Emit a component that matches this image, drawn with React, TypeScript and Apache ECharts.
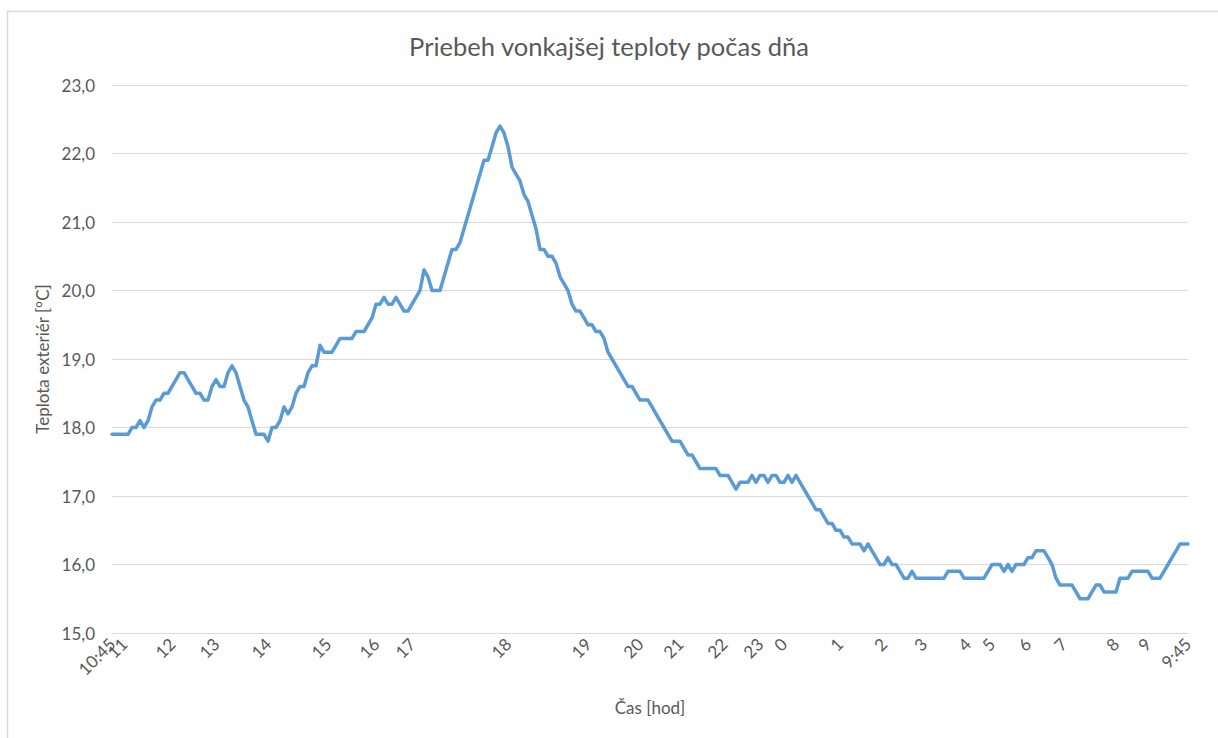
import React, { useEffect, useRef } from "react";
import * as echarts from "echarts";

const TITLE = "Priebeh vonkajšej teploty počas dňa";
const Y_NAME = "Teplota exteriér [°C]";
const X_NAME = "Čas [hod]";

// Outdoor temperature samples (°C), in measurement order
const TEMPS = [
  17.9, 17.9, 17.9, 17.9, 17.9, 18.0, 18.0, 18.1, 18.0, 18.1,
  18.3, 18.4, 18.4, 18.5, 18.5, 18.6, 18.7, 18.8, 18.8, 18.7,
  18.6, 18.5, 18.5, 18.4, 18.4, 18.6, 18.7, 18.6, 18.6, 18.8,
  18.9, 18.8, 18.6, 18.4, 18.3, 18.1, 17.9, 17.9, 17.9, 17.8,
  18.0, 18.0, 18.1, 18.3, 18.2, 18.3, 18.5, 18.6, 18.6, 18.8,
  18.9, 18.9, 19.2, 19.1, 19.1, 19.1, 19.2, 19.3, 19.3, 19.3,
  19.3, 19.4, 19.4, 19.4, 19.5, 19.6, 19.8, 19.8, 19.9, 19.8,
  19.8, 19.9, 19.8, 19.7, 19.7, 19.8, 19.9, 20.0, 20.3, 20.2,
  20.0, 20.0, 20.0, 20.2, 20.4, 20.6, 20.6, 20.7, 20.9, 21.1,
  21.3, 21.5, 21.7, 21.9, 21.9, 22.1, 22.3, 22.4, 22.3, 22.1,
  21.8, 21.7, 21.6, 21.4, 21.3, 21.1, 20.9, 20.6, 20.6, 20.5,
  20.5, 20.4, 20.2, 20.1, 20.0, 19.8, 19.7, 19.7, 19.6, 19.5,
  19.5, 19.4, 19.4, 19.3, 19.1, 19.0, 18.9, 18.8, 18.7, 18.6,
  18.6, 18.5, 18.4, 18.4, 18.4, 18.3, 18.2, 18.1, 18.0, 17.9,
  17.8, 17.8, 17.8, 17.7, 17.6, 17.6, 17.5, 17.4, 17.4, 17.4,
  17.4, 17.4, 17.3, 17.3, 17.3, 17.2, 17.1, 17.2, 17.2, 17.2,
  17.3, 17.2, 17.3, 17.3, 17.2, 17.3, 17.3, 17.2, 17.2, 17.3,
  17.2, 17.3, 17.2, 17.1, 17.0, 16.9, 16.8, 16.8, 16.7, 16.6,
  16.6, 16.5, 16.5, 16.4, 16.4, 16.3, 16.3, 16.3, 16.2, 16.3,
  16.2, 16.1, 16.0, 16.0, 16.1, 16.0, 16.0, 15.9, 15.8, 15.8,
  15.9, 15.8, 15.8, 15.8, 15.8, 15.8, 15.8, 15.8, 15.8, 15.9,
  15.9, 15.9, 15.9, 15.8, 15.8, 15.8, 15.8, 15.8, 15.8, 15.9,
  16.0, 16.0, 16.0, 15.9, 16.0, 15.9, 16.0, 16.0, 16.0, 16.1,
  16.1, 16.2, 16.2, 16.2, 16.1, 16.0, 15.8, 15.7, 15.7, 15.7,
  15.7, 15.6, 15.5, 15.5, 15.5, 15.6, 15.7, 15.7, 15.6, 15.6,
  15.6, 15.6, 15.8, 15.8, 15.8, 15.9, 15.9, 15.9, 15.9, 15.9,
  15.8, 15.8, 15.8, 15.9, 16.0, 16.1, 16.2, 16.3, 16.3, 16.3,
];

// Hour labels shown on the time axis and the sample index they belong to
const HOUR_LABELS = [
  "10:45", "11", "12", "13", "14", "15", "16", "17", "18", "19", "20", "21", "22",
  "23", "0", "1", "2", "3", "4", "5", "6", "7", "8", "9", "9:45",
];
const HOUR_INDEX = [
  0, 3, 15, 26, 39, 54, 66, 75, 99, 119, 132, 142, 153,
  162, 168, 182, 193, 203, 214, 220, 229, 238, 251, 259, 269,
];

const Y_MIN = 15;
const Y_MAX = 23;
const Y_STEP = 1;

const FONT = "Lato, 'Open Sans', sans-serif";
const TEXT = "#595959";
const GRID = "#d9d9d9";
const LINE = "#5b9bd5";

export default function App() {
  const ref = useRef<HTMLDivElement>(null);

  useEffect(() => {
    if (!ref.current) return;
    const chart = echarts.init(ref.current, undefined, { renderer: "svg" });

    const categories = TEMPS.map(() => "");
    HOUR_INDEX.forEach((idx, k) => {
      categories[idx] = HOUR_LABELS[k];
    });

    chart.setOption({
      animation: false,
      backgroundColor: "#ffffff",
      textStyle: { fontFamily: FONT },
      title: {
        text: TITLE,
        left: "center",
        top: 28,
        textStyle: {
          fontFamily: FONT,
          fontSize: 25.5,
          fontWeight: "normal",
          color: TEXT,
        },
      },
      graphic: [
        {
          type: "rect",
          shape: { x: 7.5, y: 11.5, width: 1400, height: 1000 },
          style: { fill: "none", stroke: GRID, lineWidth: 1.5 },
          silent: true,
          z: -1,
        },
      ],
      grid: { left: 112, right: 30, top: 85, bottom: 105, containLabel: false },
      xAxis: {
        type: "category",
        data: categories,
        boundaryGap: false,
        name: X_NAME,
        nameLocation: "middle",
        nameGap: 66,
        nameTextStyle: { fontFamily: FONT, fontSize: 17, color: TEXT },
        axisLine: { show: true, lineStyle: { color: GRID, width: 1 } },
        axisTick: { show: false },
        splitLine: { show: false },
        axisLabel: {
          interval: 0,
          rotate: 45,
          margin: 8,
          fontFamily: FONT,
          fontSize: 17,
          color: TEXT,
        },
      },
      yAxis: {
        type: "value",
        min: Y_MIN,
        max: Y_MAX,
        interval: Y_STEP,
        name: Y_NAME,
        nameLocation: "middle",
        nameRotate: 90,
        nameGap: 60,
        nameTextStyle: { fontFamily: FONT, fontSize: 17, color: TEXT },
        axisLine: { show: false },
        axisTick: { show: false },
        splitLine: { show: true, lineStyle: { color: GRID, width: 1 } },
        axisLabel: {
          margin: 17,
          fontFamily: FONT,
          fontSize: 17,
          color: TEXT,
          formatter: (v: number) => v.toFixed(1).replace(".", ","),
        },
      },
      series: [
        {
          type: "line",
          data: TEMPS,
          showSymbol: false,
          symbol: "none",
          smooth: false,
          lineStyle: { color: LINE, width: 3.5, cap: "round", join: "round" },
        },
      ],
    });

    return () => chart.dispose();
  }, []);

  return (
    <div
      ref={ref}
      style={{ position: "absolute", left: 0, top: 0, width: 1218, height: 738 }}
    />
  );
}
